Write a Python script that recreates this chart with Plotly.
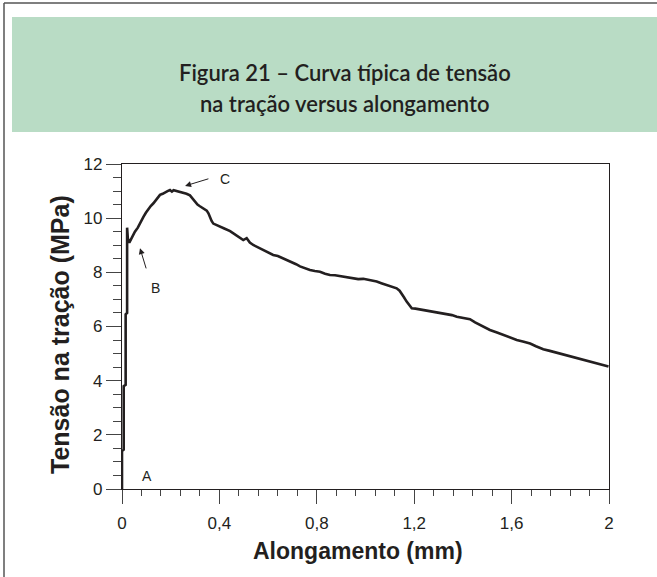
import plotly.graph_objects as go

# ---- data ----
alongamento = [0.000, 0.000, 0.007, 0.007, 0.015, 0.015, 0.021, 0.021, 0.024, 0.030,
               0.040, 0.053, 0.065, 0.075, 0.088, 0.098, 0.108, 0.118, 0.129, 0.142,
               0.156, 0.167, 0.177, 0.187, 0.197, 0.205, 0.212, 0.225, 0.238, 0.252,
               0.265, 0.279, 0.290, 0.300, 0.310, 0.320, 0.333, 0.348, 0.355, 0.361,
               0.368, 0.375, 0.388, 0.402, 0.420, 0.444, 0.462, 0.478, 0.498, 0.512,
               0.525, 0.539, 0.560, 0.580, 0.600, 0.621, 0.640, 0.662, 0.680, 0.697,
               0.715, 0.731, 0.750, 0.772, 0.792, 0.813, 0.834, 0.854, 0.875, 0.895,
               0.915, 0.936, 0.955, 0.970, 0.991, 1.020, 1.046, 1.065, 1.087, 1.108,
               1.128, 1.140, 1.149, 1.158, 1.169, 1.180, 1.190, 1.205, 1.224, 1.250,
               1.278, 1.305, 1.333, 1.355, 1.375, 1.400, 1.429, 1.450, 1.470, 1.490,
               1.511, 1.540, 1.566, 1.595, 1.621, 1.650, 1.676, 1.700, 1.730, 1.757,
               1.785, 1.812, 1.840, 1.868, 1.895, 1.922, 1.950, 1.975, 1.998]
tensao = [0.00, 1.40, 1.45, 3.80, 3.85, 6.45, 6.50, 9.65, 9.25, 9.10,
          9.30, 9.50, 9.65, 9.85, 10.05, 10.20, 10.33, 10.45, 10.55, 10.72,
          10.86, 10.90, 10.96, 11.00, 11.04, 10.98, 11.03, 11.00, 10.97, 10.94,
          10.90, 10.84, 10.72, 10.60, 10.50, 10.44, 10.38, 10.28, 10.18, 10.04,
          9.90, 9.80, 9.74, 9.69, 9.62, 9.52, 9.40, 9.30, 9.19, 9.26,
          9.10, 9.01, 8.92, 8.83, 8.74, 8.64, 8.60, 8.52, 8.44, 8.38,
          8.30, 8.22, 8.15, 8.09, 8.05, 8.02, 7.95, 7.90, 7.89, 7.86,
          7.84, 7.82, 7.78, 7.75, 7.76, 7.71, 7.66, 7.60, 7.53, 7.47,
          7.41, 7.32, 7.22, 7.08, 6.92, 6.78, 6.67, 6.66, 6.63, 6.59,
          6.55, 6.52, 6.48, 6.42, 6.36, 6.33, 6.27, 6.15, 6.06, 5.96,
          5.87, 5.78, 5.69, 5.60, 5.50, 5.44, 5.37, 5.27, 5.16, 5.10,
          5.03, 4.96, 4.89, 4.82, 4.76, 4.70, 4.63, 4.58, 4.52]

x_tickvals = [0, 0.4, 0.8, 1.2, 1.6, 2]
x_ticktext = ["0", "0,4", "0,8", "1,2", "1,6", "2"]
y_tickvals = [0, 2, 4, 6, 8, 10, 12]
y_ticktext = ["0", "2", "4", "6", "8", "10", "12"]

titulo = ["Figura 21 – Curva típica de tensão", "na tração versus alongamento"]
x_titulo = "Alongamento (mm)"
y_titulo = "Tensão na tração (MPa)"

pontos = ["A", "B", "C"]

W, H = 657, 577
L, R, T, B = 122, 48, 164, 88
PW, PH = W - L - R, H - T - B


def px(xp):
    return (xp - L) / PW


def py(yp):
    return (H - B - yp) / PH


ink = "#231f20"
fig = go.Figure()
fig.add_trace(go.Scatter(x=alongamento, y=tensao, mode="lines",
                         line=dict(color=ink, width=2.6), hoverinfo="skip",
                         showlegend=False))

axis_common = dict(showgrid=False, zeroline=False, showline=True, mirror=True,
                   linecolor=ink, linewidth=1.2, ticks="outside", tickcolor="#444",
                   tickwidth=1.2, tickfont=dict(family="Liberation Sans, Arial", size=17, color=ink))

fig.update_xaxes(range=[0, 2], tickvals=x_tickvals, ticktext=x_ticktext, ticklen=14,
                 ticklabelstandoff=4,
                 minor=dict(tick0=0, dtick=0.08, ticks="outside", ticklen=6,
                            tickcolor="#444", tickwidth=1.2),
                 **axis_common)
fig.update_yaxes(range=[0, 12], tickvals=y_tickvals, ticktext=y_ticktext, ticklen=15,
                 minor=dict(tick0=0, dtick=0.5, ticks="outside", ticklen=8,
                            tickcolor="#444", tickwidth=1.2),
                 **axis_common)

shapes = [
    # green title band
    dict(type="rect", xref="paper", yref="paper", x0=px(12), x1=px(660), y0=py(132), y1=py(17),
         fillcolor="#b9dcc5", line=dict(width=0), layer="below"),
    # outer frame (left and top)
    dict(type="line", xref="paper", yref="paper", x0=px(4), x1=px(4), y0=py(3), y1=py(580),
         line=dict(color="#555", width=1.5)),
    dict(type="line", xref="paper", yref="paper", x0=px(4), x1=px(660), y0=py(3), y1=py(3),
         line=dict(color="#555", width=1.5)),
]

title_font = dict(family="Lato, Noto Sans", size=22, color=ink, weight=600)
annotations = [
    dict(text=titulo[0], xref="paper", yref="paper", x=px(345), y=py(72), showarrow=False,
         xanchor="center", yanchor="middle", font=title_font),
    dict(text=titulo[1], xref="paper", yref="paper", x=px(345), y=py(103), showarrow=False,
         xanchor="center", yanchor="middle", font=title_font),
    dict(text="<b>" + x_titulo + "</b>", xref="paper", yref="paper", x=px(358), y=py(551),
         showarrow=False, xanchor="center", yanchor="middle",
         font=dict(family="Liberation Sans, Arial", size=23, color=ink)),
    dict(text="<b>" + y_titulo + "</b>", xref="paper", yref="paper", x=px(60), y=py(335),
         showarrow=False, xanchor="center", yanchor="middle", textangle=-90,
         font=dict(family="Liberation Sans, Arial", size=25, color=ink)),
    # point labels
    dict(text=pontos[0], x=0.104, y=0.48, showarrow=False,
         font=dict(family="Liberation Sans, Arial", size=14, color=ink)),
    dict(text=pontos[1], x=0.136, y=7.42, showarrow=False,
         font=dict(family="Liberation Sans, Arial", size=14, color=ink)),
    dict(text=pontos[2], x=0.423, y=11.45, showarrow=False,
         font=dict(family="Liberation Sans, Arial", size=14, color=ink)),
    # arrows
    dict(x=0.074, y=8.89, ax=0.101, ay=8.09, axref="x", ayref="y", text="", showarrow=True,
         arrowhead=2, arrowsize=1.2, arrowwidth=1, arrowcolor=ink),
    dict(x=0.259, y=11.19, ax=0.361, ay=11.47, axref="x", ayref="y", text="", showarrow=True,
         arrowhead=2, arrowsize=1.2, arrowwidth=1, arrowcolor=ink),
]

fig.update_layout(width=W, height=H, margin=dict(l=L, r=R, t=T, b=B, autoexpand=False),
                  paper_bgcolor="white", plot_bgcolor="white",
                  shapes=shapes, annotations=annotations)

fig.write_html("out.html")
